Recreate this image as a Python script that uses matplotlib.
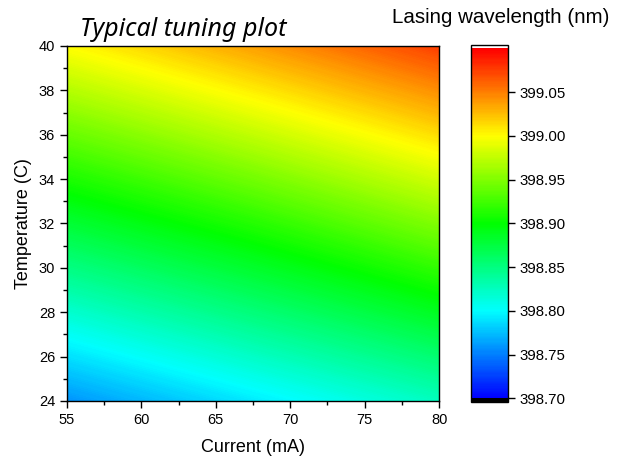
import numpy as np
import matplotlib
matplotlib.use("Agg")
from matplotlib import pyplot as plt
from matplotlib.colors import LinearSegmentedColormap, Normalize
from matplotlib.ticker import MultipleLocator

# wavelength read at a coarse grid (nm)
current = [55, 67.5, 80]          # mA
temperature = [24, 32, 40]        # C
wavelength = [[398.758, 398.792, 398.825],
              [398.879, 398.913, 398.950],
              [399.000, 399.037, 399.075]]
cbar_ticks = [398.70, 398.75, 398.80, 398.85, 398.90, 398.95, 399.00, 399.05]

plt.rcParams['font.family'] = ['Liberation Sans', 'DejaVu Sans']

cmap = LinearSegmentedColormap.from_list(
    'tuning', ['#0000ff', '#00ffff', '#00ff00', '#ffff00', '#ff0000'])
cmap.set_over('white')
cmap.set_under('black')
norm = Normalize(vmin=398.70, vmax=399.10)

fig = plt.figure(figsize=(6.31, 4.59), dpi=100)
ax = fig.add_axes([0.106, 0.1264, 0.590, 0.7734])
cax = fig.add_axes([0.746, 0.1242, 0.0586, 0.778])

levels = np.linspace(398.70, 399.10, 321)
cs = ax.contourf(current, temperature, wavelength, levels=levels,
                 cmap=cmap, norm=norm, extend='both')

ax.set_xlim(55, 80)
ax.set_ylim(24, 40)
ax.xaxis.set_major_locator(MultipleLocator(5))
ax.xaxis.set_minor_locator(MultipleLocator(2.5))
ax.yaxis.set_major_locator(MultipleLocator(2))
ax.yaxis.set_minor_locator(MultipleLocator(1))
ax.tick_params(which='major', direction='out', length=5, width=1, labelsize=10.5)
ax.tick_params(which='minor', direction='out', length=3, width=1)
for s in ax.spines.values():
    s.set_linewidth(1)
ax.set_xlabel('Current (mA)', fontsize=13, labelpad=9)
ax.set_ylabel('Temperature (C)', fontsize=13, labelpad=5)
ax.text(0.035, 1.01, 'Typical tuning plot', transform=ax.transAxes,
        fontsize=18, style='italic', family=['Noto Sans', 'DejaVu Sans'],
        ha='left', va='bottom')

cb = fig.colorbar(cs, cax=cax, extend='both', extendrect=True, extendfrac=0.01,
                  ticks=cbar_ticks, format='%.2f')
cb.outline.set_linewidth(1)
cax.tick_params(direction='out', length=5, width=1, labelsize=10.8)
cax.minorticks_off()
fig.text(0.794, 0.961, 'Lasing wavelength (nm)', fontsize=14.8,
         ha='center', va='center')

fig.savefig('out.png', dpi=100)
